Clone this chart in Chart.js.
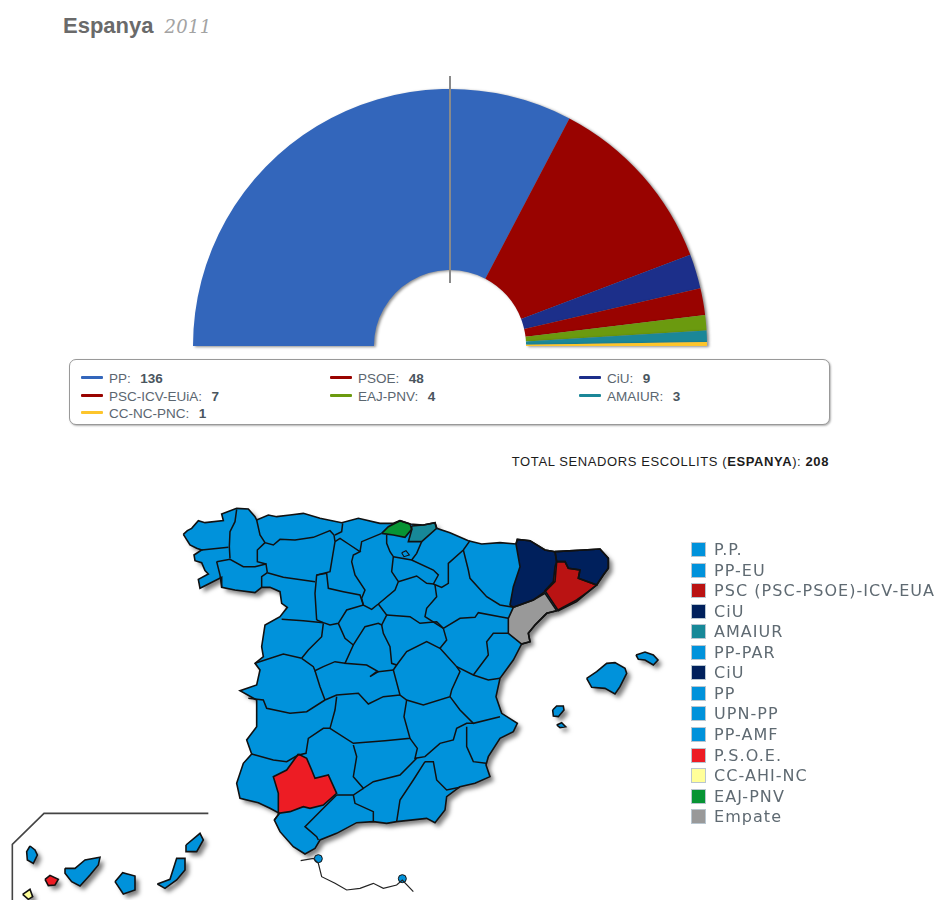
<!DOCTYPE html>
<html><head><meta charset="utf-8">
<script src="https://cdn.jsdelivr.net/npm/chart.js@4"></script>
<style>
html,body{margin:0;padding:0;background:#fff;width:936px;height:900px;overflow:hidden}
body{position:relative}
canvas{position:absolute;display:block}
.t{position:absolute;white-space:nowrap}
#title{left:63px;top:13px;font:bold 22px "Liberation Sans",Arial,sans-serif;color:#6a6a6a}
#title i{font:italic 18px "DejaVu Serif",serif;color:#a3a3a3;font-weight:normal;margin-left:5px;letter-spacing:.3px}
#legendBox{position:absolute;left:69px;top:359px;width:759px;height:64px;border:1px solid #999;border-radius:7px;box-shadow:1px 1px 2px rgba(0,0,0,.3);background:#fff}
.li{position:absolute;font:13.5px "Liberation Sans",Arial,sans-serif;color:#5b6670;height:14px;line-height:14px;white-space:pre}
.li b{color:#4a555e;margin-left:2px}
.li span{position:absolute;left:-28px;top:4px;width:22px;height:3px;border-radius:1px}
#total{right:107px;top:454px;font:13px "Liberation Sans",Arial,sans-serif;color:#1c1c1c;letter-spacing:.6px}
.mi{position:absolute;left:691px;height:15px}
.mi span{position:absolute;left:0;top:0;width:13px;height:13px;border:1px solid #b9c6d0}
.mi label{position:absolute;left:23px;top:-2px;font:16px "DejaVu Sans",Verdana,sans-serif;color:#5f6a72;white-space:nowrap;letter-spacing:1.05px}
</style></head><body>
<div class="t" id="title">Espanya <i>2011</i></div>
<canvas id="pie" width="936" height="300" style="left:0;top:50px"></canvas>
<div id="legendBox"></div>
<div class="t" id="total">TOTAL SENADORS ESCOLLITS (<b>ESPANYA</b>): <b>208</b></div>
<canvas id="map" width="946" height="410" style="left:-5px;top:495px"></canvas>
<script>
const parties=['PP','PSOE','CiU','PSC-ICV-EUiA','EAJ-PNV','AMAIUR','CC-NC-PNC'];
const seats=[136,48,9,7,4,3,1];
const partyColors=['#3366bb','#990300','#1c2f8a','#990300','#6b9a0f','#1b8798','#fdc52b'];
const totalLabel=208;

const mapLegendLabels=['P.P.','PP-EU','PSC (PSC-PSOE)-ICV-EUA','CiU','AMAIUR','PP-PAR','CiU','PP','UPN-PP','PP-AMF','P.S.O.E.','CC-AHI-NC','EAJ-PNV','Empate'];
const mapLegendColors=['#0092db','#0092db','#ba1313','#00205c','#178898','#0092db','#00205c','#0092db','#0092db','#0092db','#ed1c24','#ffff99','#069434','#999999'];

const BLUE='#0092db',NAVY='#00205c',PSCRED='#ba1313',AM='#178898',EAJ='#069434',PSOE='#ed1c24',CC='#ffff99',GREY='#999999';

const mainland=[[10,103],[22,92],[35,85],[55,62],[75,68],[130,62],[125,42],[170,25],[205,27],[225,50],[230,60],[265,45],[290,50],[330,45],[370,40],[420,55],[485,68],[535,55],[600,70],[640,70],[660,62],[690,72],[730,75],[765,68],[770,85],[810,98],[865,122],[905,132],[960,128],[1008,132],[1012,118],[1050,122],[1095,150],[1125,155],[1210,150],[1260,147],[1285,175],[1285,205],[1270,225],[1250,255],[1225,275],[1190,300],[1130,332],[1100,340],[1065,375],[1045,400],[1050,425],[1025,432],[1000,480],[960,535],[948,590],[965,640],[1012,670],[1000,695],[960,715],[925,770],[918,795],[930,830],[885,850],[840,860],[800,890],[795,930],[765,968],[740,955],[650,965],[620,970],[580,965],[530,968],[470,1000],[420,1020],[405,1045],[375,1062],[340,1040],[300,995],[283,960],[298,940],[270,925],[235,908],[180,895],[170,850],[190,790],[215,762],[200,720],[230,680],[230,600],[180,572],[230,555],[240,510],[225,490],[250,470],[245,440],[255,375],[300,350],[322,322],[305,310],[300,275],[270,262],[245,262],[225,278],[165,270],[125,262],[125,232],[60,265],[55,238],[85,222],[75,212],[65,188],[45,182],[42,165],[65,150],[50,145],[30,135],[10,103]];

const borders=[
[[170,28],[165,65],[150,95],[148,140],[150,175]],
[[65,150],[145,142]],
[[110,185],[150,178],[190,200],[225,200],[258,192],[262,218]],
[[110,185],[120,225],[125,262]],
[[230,60],[240,105],[255,128],[280,135],[300,118],[345,120],[400,112],[450,92],[462,105],[465,125]],
[[255,128],[232,150],[232,185],[258,192]],
[[262,218],[245,230],[245,262]],
[[262,218],[310,232],[405,245]],
[[488,70],[485,95],[465,105]],
[[465,125],[455,185],[450,215],[410,225],[405,280],[410,360]],
[[305,358],[370,362],[430,368]],
[[465,125],[480,115],[510,135],[540,155],[520,165],[515,185],[525,225],[555,270],[545,295],[550,315]],
[[540,155],[545,125],[605,100]],
[[410,225],[440,220],[445,265],[490,275],[540,285],[550,315]],
[[620,105],[620,130],[630,155],[640,170],[635,215],[655,245],[645,270],[595,312],[575,328],[550,315],[500,330],[475,370],[450,375],[430,368],[410,360]],
[[475,370],[495,415],[520,435],[555,380],[595,370],[605,375],[620,345],[595,312]],
[[725,125],[710,160],[695,180]],
[[640,170],[695,180],[760,210],[775,225],[760,252],[740,250],[710,228],[655,245]],
[[760,252],[785,262],[805,250],[805,190],[850,150],[870,122]],
[[850,150],[865,210],[870,235],[920,290],[960,315],[1000,322]],
[[765,255],[770,290],[740,325],[735,350],[790,385]],
[[620,345],[690,350],[720,370],[770,365],[790,385]],
[[430,370],[425,410],[385,450],[365,475]],
[[790,385],[840,355],[885,352],[895,338],[960,350],[985,355]],
[[985,400],[940,400],[920,425],[925,465],[880,525]],
[[790,385],[800,420],[780,445],[830,500],[880,525],[925,540],[960,535]],
[[605,375],[610,400],[630,440],[635,490],[650,495],[680,455],[740,425],[780,445]],
[[650,495],[640,510],[660,585],[680,600],[730,615],[810,590],[815,570],[840,515],[830,500]],
[[810,590],[840,630],[880,670],[960,650]],
[[520,435],[495,490],[560,495],[595,515],[640,510]],
[[595,515],[570,530],[590,515]],
[[365,475],[400,500],[405,512],[430,500],[465,485],[495,490]],
[[405,512],[420,560],[435,600]],
[[435,600],[470,585],[535,580],[565,612],[610,590],[660,585]],
[[225,490],[310,462],[365,475]],
[[205,595],[250,600],[260,625],[330,640],[380,635],[435,600]],
[[470,590],[465,630],[450,685],[430,685],[385,715],[378,760],[355,765]],
[[215,762],[280,780],[320,785],[355,765]],
[[450,685],[520,730],[615,722],[690,715],[672,650],[680,600]],
[[690,715],[712,745],[705,775],[735,770],[780,730],[820,720],[830,685],[860,670],[880,670]],
[[860,680],[860,740],[880,785],[918,790]],
[[520,735],[530,770],[520,830],[550,865],[580,845],[660,825],[710,775]],
[[735,785],[760,785],[770,840],[800,870],[840,862]],
[[735,785],[700,840],[660,900],[650,965]],
[[470,885],[520,885],[550,865]],
[[520,885],[525,910],[580,935],[580,965]],
[[470,885],[430,925],[375,980],[410,1010],[415,1020]],
[[298,940],[283,960]]
];

const sevilla=[[355,762],[380,775],[395,810],[405,835],[445,825],[470,880],[430,915],[390,925],[370,920],[330,935],[295,940],[295,880],[280,830],[320,810],[355,762]];
const barcelona=[[1130,185],[1155,185],[1165,205],[1200,210],[1195,235],[1250,255],[1225,275],[1190,305],[1135,332],[1095,272],[1120,245],[1125,200],[1130,185]];
const lleida=[[1008,132],[1012,118],[1050,122],[1095,150],[1125,155],[1130,185],[1125,245],[1095,275],[1060,300],[1000,322],[990,315],[1000,260],[1020,200],[1008,132]];
const girona=[[1125,155],[1210,150],[1260,147],[1285,175],[1285,205],[1270,225],[1250,255],[1195,235],[1200,210],[1165,205],[1155,185],[1130,185],[1125,155]];
const tarragona=[[1000,322],[1060,300],[1095,280],[1130,332],[1100,340],[1065,375],[1045,400],[1050,425],[1025,432],[985,400],[985,355],[1000,322]];
const bizkaia=[[605,100],[625,80],[660,62],[690,72],[695,88],[675,112],[640,105],[605,100]];
const gipuzkoa=[[695,78],[730,75],[765,68],[770,85],[725,125],[685,125],[695,90],[695,78]];
const trevino=[[665,158],[678,152],[688,165],[672,170],[665,158]];

const mallorca=[[1220,535],[1250,515],[1280,490],[1305,488],[1335,505],[1340,520],[1320,560],[1305,582],[1275,565],[1235,562],[1220,535]];
const menorca=[[1368,465],[1395,456],[1420,465],[1434,480],[1420,495],[1395,480],[1375,478],[1368,465]];
const ibiza=[[1118,630],[1130,618],[1150,618],[1152,630],[1135,650],[1120,648],[1118,630]];
const formentera=[[1130,675],[1145,668],[1157,680],[1140,683],[1130,675]];

const laPalma=[[-450,1038],[-435,1050],[-428,1065],[-440,1090],[-458,1080],[-460,1055],[-450,1038]];
const gomera=[[-405,1138],[-390,1126],[-365,1138],[-375,1155],[-395,1157],[-405,1138]];
const hierro=[[-472,1183],[-450,1168],[-442,1190],[-455,1198],[-472,1183]];
const tenerife=[[-345,1105],[-315,1105],[-285,1080],[-240,1072],[-245,1095],[-270,1125],[-300,1158],[-325,1145],[-345,1120],[-345,1105]];
const granCanaria=[[-195,1145],[-172,1118],[-135,1128],[-135,1170],[-170,1182],[-195,1145]];
const fuerteventura=[[-68,1152],[-30,1138],[-10,1075],[15,1075],[15,1110],[-10,1140],[-45,1165],[-68,1152]];
const lanzarote=[[18,1035],[60,1000],[70,1020],[50,1055],[20,1055],[18,1035]];

const africaLine=[[362,1082],[400,1075],[415,1090],[425,1130],[465,1150],[500,1170],[540,1165],[580,1150],[610,1165],[650,1155],[667,1140],[700,1175]];
const insetFrame=[[-503,1200],[-503,1033],[-408,940],[85,940]];
const enclaves=[[415,1076],[667,1136]];

const landShapes=[
 [mainland,BLUE],[mallorca,BLUE],[menorca,BLUE],[ibiza,BLUE],[formentera,BLUE],
 [laPalma,BLUE],[gomera,PSOE],[hierro,CC],[tenerife,BLUE],[granCanaria,BLUE],[fuerteventura,BLUE],[lanzarote,BLUE]
];
const coloured=[[sevilla,PSOE],[lleida,NAVY],[girona,NAVY],[barcelona,PSCRED],[tarragona,GREY],[bizkaia,EAJ],[gipuzkoa,AM]];

const toXY=a=>a.map(p=>({x:p[0],y:p[1]}));
function lineDs(pts,color,width,extra){return Object.assign({data:toXY(pts),showLine:true,fill:false,borderColor:color,borderWidth:width,pointRadius:0,tension:0,clip:false},extra||{});}

const datasets=[];
landShapes.forEach(([p,c])=>datasets.push(lineDs(p,'#111',1.6,{polyFill:c,polyShadow:true})));
coloured.forEach(([p,c])=>datasets.push(lineDs(p,'#111',1.6,{polyFill:c})));
borders.forEach(p=>datasets.push(lineDs(p,'#111',1.5)));
datasets.push(lineDs(trevino,'#111',1.1));
datasets.push(lineDs(africaLine,'#222',1.2));
datasets.push(lineDs(insetFrame,'#444',1.6));
datasets.push({data:toXY(enclaves),showLine:false,pointRadius:4,pointBackgroundColor:BLUE,pointBorderColor:'#111',pointBorderWidth:1,clip:false});

const polyFillPlugin={id:'polyFill',beforeDatasetsDraw(chart){
  const ctx=chart.ctx;
  const pass=(shadow)=>chart.data.datasets.forEach((d,i)=>{
    if(!d.polyFill)return;
    if(shadow&&!d.polyShadow)return;
    const pts=chart.getDatasetMeta(i).data;
    ctx.save();
    if(shadow){ctx.shadowColor='rgba(0,0,0,.5)';ctx.shadowBlur=4;ctx.shadowOffsetX=4;ctx.shadowOffsetY=4;}
    ctx.fillStyle=d.polyFill;
    ctx.beginPath();
    pts.forEach((p,k)=>k?ctx.lineTo(p.x,p.y):ctx.moveTo(p.x,p.y));
    ctx.closePath();ctx.fill();ctx.restore();
  });
  pass(true);pass(false);
}};
new Chart(document.getElementById('map'),{type:'scatter',data:{datasets},plugins:[polyFillPlugin],options:{
  responsive:false,animation:false,events:[],layout:{padding:0},
  plugins:{legend:{display:false},tooltip:{enabled:false}},
  scales:{x:{type:'linear',display:false,min:-540,max:2268},y:{type:'linear',display:false,reverse:true,min:0,max:1200}}
}});

const pieDecor={id:'pieDecor',
 beforeDatasetsDraw(c){const ctx=c.ctx;ctx.save();ctx.shadowColor='rgba(0,0,0,.45)';ctx.shadowBlur=3;ctx.shadowOffsetX=2;ctx.shadowOffsetY=1;},
 afterDatasetsDraw(c){const ctx=c.ctx;ctx.restore();
  const a=c.getDatasetMeta(0).data[0];
  ctx.save();ctx.strokeStyle='#8a8a8a';ctx.lineWidth=2;ctx.beginPath();
  ctx.moveTo(a.x,a.y-a.outerRadius-13);ctx.lineTo(a.x,a.y-a.innerRadius+13);ctx.stroke();ctx.restore();}
};
new Chart(document.getElementById('pie'),{type:'doughnut',data:{labels:parties,datasets:[{data:seats,backgroundColor:partyColors,borderWidth:0}]},plugins:[pieDecor],options:{
  responsive:false,animation:false,events:[],rotation:-90,circumference:180,cutout:'29.6%',
  layout:{padding:{left:193,right:229,top:39,bottom:4}},
  plugins:{legend:{display:false},tooltip:{enabled:false}}
}});

const cols=[109,358,607],rows=[372,390,407];
parties.forEach((n,i)=>{
  const d=document.createElement('div');d.className='li';
  d.style.left=cols[i%3]+'px';d.style.top=rows[Math.floor(i/3)]+'px';
  d.innerHTML='<span style="background:'+partyColors[i]+'"></span>'+n+':  <b>'+seats[i]+'</b>';
  document.body.appendChild(d);
});
mapLegendLabels.forEach((n,i)=>{
  const d=document.createElement('div');d.className='mi';
  d.style.top=Math.round(542+i*20.55)+'px';
  d.innerHTML='<span style="background:'+mapLegendColors[i]+'"></span><label>'+n+'</label>';
  document.body.appendChild(d);
});
</script>
</body></html>
